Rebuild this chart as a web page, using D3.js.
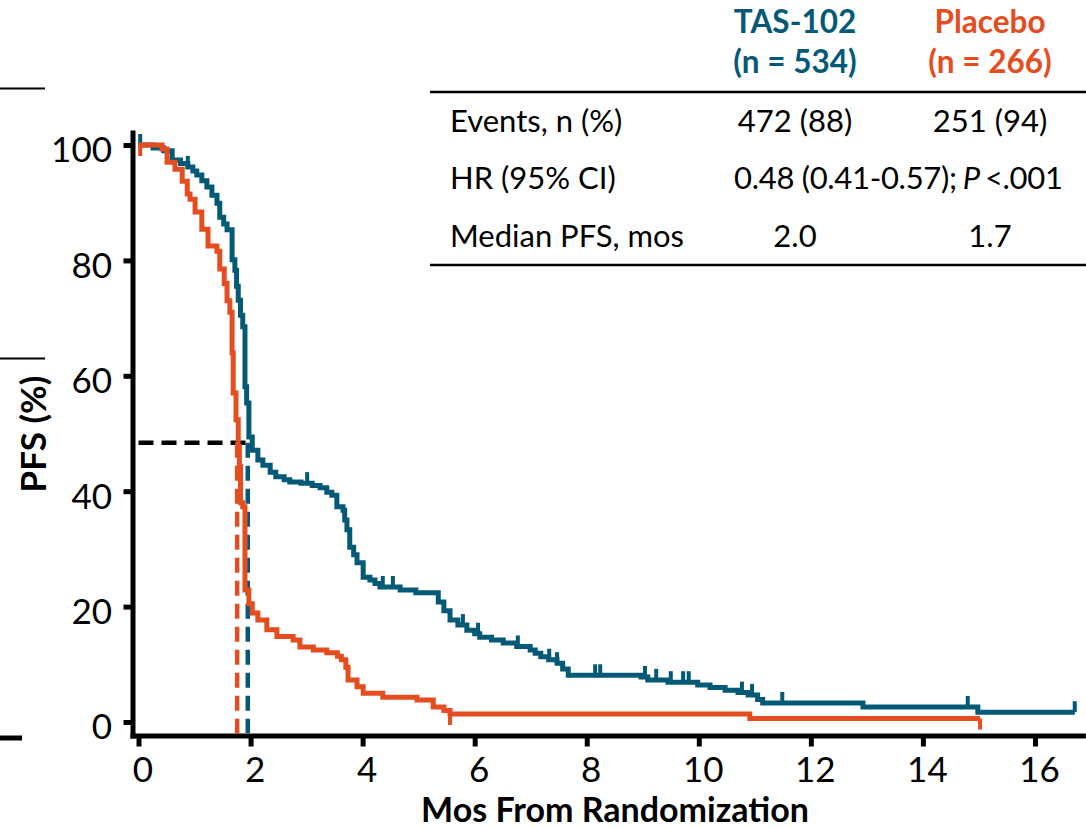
<!DOCTYPE html>
<html>
<head>
<meta charset="utf-8">
<script src="https://cdn.jsdelivr.net/npm/d3@7"></script>
<style>
  html, body { margin: 0; padding: 0; background: #fff; }
  svg { display: block; font-family: Lato, "Open Sans", sans-serif; }
</style>
</head>
<body>
<div id="chart"></div>
<script>
// Kaplan-Meier PFS: TAS-102 vs placebo, with summary table top right

// -------------------------------------------------------------
// Data
// -------------------------------------------------------------
const X_TICKS = [0, 2, 4, 6, 8, 10, 12, 14, 16];
const Y_TICKS = [0, 20, 40, 60, 80, 100];

// [months, PFS %] – value holds from that time onwards
const TAS_STEPS = [
  [0, 100], [0.26, 99.5], [0.45, 99.0], [0.60, 97.4], [0.75, 96.8], [0.88, 96.2],
  [0.97, 95.5], [1.04, 94.8], [1.13, 93.8], [1.22, 92.7], [1.31, 91.3], [1.40, 89.9],
  [1.45, 87.5], [1.52, 86.3], [1.58, 85.3], [1.67, 80.1], [1.72, 78.3], [1.75, 75.5],
  [1.78, 73.1], [1.82, 70.5], [1.86, 68.5], [1.90, 58.1], [1.93, 55.3], [1.97, 49.4],
  [2.03, 47.1], [2.13, 45.4], [2.22, 44.5], [2.35, 43.3], [2.45, 42.5], [2.60, 42.0],
  [2.70, 41.6], [2.90, 41.4], [3.10, 41.0], [3.24, 40.6], [3.36, 39.8], [3.45, 39.3],
  [3.54, 37.3], [3.65, 36.7], [3.68, 35.0], [3.72, 33.3], [3.77, 30.3], [3.84, 29.0],
  [3.90, 27.6], [4.01, 25.1], [4.13, 24.6], [4.22, 24.0], [4.31, 23.4], [4.67, 22.9],
  [4.95, 22.4], [5.35, 20.8], [5.45, 19.3], [5.56, 17.7], [5.70, 16.8], [5.86, 15.9],
  [6.00, 15.3], [6.09, 14.7], [6.30, 14.2], [6.51, 13.7], [6.75, 13.1], [6.99, 12.5],
  [7.08, 11.9], [7.18, 11.3], [7.32, 10.8], [7.47, 10.2], [7.57, 9.2], [7.67, 8.1],
  [8.97, 7.8], [9.09, 7.3], [9.45, 6.9], [9.98, 6.4], [10.20, 6.0], [10.47, 5.5],
  [10.70, 5.1], [10.88, 4.7], [11.05, 3.9], [11.14, 3.3], [12.93, 2.6], [14.98, 1.7]
];
const TAS_END = 16.71;
const TAS_CENSOR = [0.03, 0.60, 0.88, 3.01, 4.36, 4.54, 5.79, 6.06, 6.77, 7.33, 7.47,
  8.15, 8.24, 9.04, 9.24, 9.50, 9.72, 9.82, 10.77, 10.95, 11.49, 14.80, 16.71];

const PBO_STEPS = [
  [0, 100], [0.42, 99.3], [0.51, 97.0], [0.65, 95.8], [0.78, 93.7], [0.87, 91.5],
  [0.92, 90.6], [1.01, 88.4], [1.13, 85.4], [1.24, 82.5], [1.40, 81.6], [1.45, 78.5],
  [1.53, 76.0], [1.58, 73.0], [1.63, 71.0], [1.67, 64.0], [1.69, 57.0], [1.74, 52.4],
  [1.78, 47.7], [1.80, 44.3], [1.82, 38.0], [1.86, 37.3], [1.90, 22.9], [1.97, 20.5],
  [2.03, 18.9], [2.13, 17.7], [2.29, 16.0], [2.47, 14.8], [2.76, 14.2], [2.88, 13.0],
  [3.12, 12.5], [3.36, 12.0], [3.55, 11.4], [3.62, 10.8], [3.70, 9.5], [3.74, 7.3],
  [3.90, 6.1], [4.01, 5.0], [4.36, 4.3], [4.97, 3.8], [5.26, 2.6], [5.45, 2.0],
  [5.56, 1.4], [10.91, 0.6]
];
const PBO_END = 15.02;
const PBO_CENSOR = [0.03, 5.56, 15.02];

// median markers: [months, PFS %]
const MEDIAN_LEVEL = 48.4;
const TAS_MEDIAN = 1.95;
const PBO_MEDIAN = 1.76;

const ARM_HEADERS = [["TAS-102", "(n = 534)"], ["Placebo", "(n = 266)"]];
const TABLE_ROWS = [
  ["Events, n (%)", "472 (88)", "251 (94)"],
  ["HR (95% CI)", "0.48 (0.41-0.57); ", "<.001"],
  ["Median PFS, mos", "2.0", "1.7"]
];

const TEAL = "#045a76";
const ORANGE = "#e44d1f";

// -------------------------------------------------------------
// Helpers
// -------------------------------------------------------------
function survAt(steps, t) {
  let s = steps[0][1];
  for (const d of steps) { if (d[0] <= t) s = d[1]; }
  return s;
}

// -------------------------------------------------------------
// Chart
// -------------------------------------------------------------
const W = 1086, H = 828;
const svg = d3.select("#chart").append("svg")
  .attr("width", W)
  .attr("height", H);

const x = d3.scaleLinear().domain([-0.152, 16.9]).range([130, 1085.4]);
const y = d3.scaleLinear().domain([-2.77, 102.6]).range([738, 130]);

// stray rule fragments at the left edge of the figure
svg.append("line").attr("x1", 0).attr("x2", 45).attr("y1", 88.5).attr("y2", 88.5)
  .attr("stroke", "#000").attr("stroke-width", 2);
svg.append("line").attr("x1", 0).attr("x2", 45).attr("y1", 358.5).attr("y2", 358.5)
  .attr("stroke", "#000").attr("stroke-width", 2);
svg.append("line").attr("x1", 0).attr("x2", 22).attr("y1", 738).attr("y2", 738)
  .attr("stroke", "#000").attr("stroke-width", 5);

// axes
const xAxis = svg.append("g")
  .attr("transform", "translate(0,735.5)")
  .call(d3.axisBottom(x).tickValues(X_TICKS).tickSize(11).tickSizeOuter(0).tickPadding(11));

const yAxis = svg.append("g")
  .attr("transform", "translate(132.5,0)")
  .call(d3.axisLeft(y).tickValues(Y_TICKS).tickSize(9).tickSizeOuter(0).tickPadding(11.5));

[xAxis, yAxis].forEach(a => {
  a.select(".domain").attr("stroke", "#000").attr("stroke-width", 5);
  a.selectAll(".tick line").attr("stroke", "#000").attr("stroke-width", 5);
  a.selectAll(".tick text")
    .attr("fill", "#000")
    .style("font-family", "Lato, 'Open Sans', sans-serif")
    .style("font-size", "35px");
});
xAxis.selectAll(".tick text").attr("dx", 4);
yAxis.selectAll(".tick text").attr("dy", "0.48em");

// axis titles
svg.append("text")
  .attr("x", 615)
  .attr("y", 822)
  .attr("text-anchor", "middle")
  .attr("font-weight", 700)
  .attr("font-size", 34)
  .text("Mos From Randomization");

svg.append("text")
  .attr("transform", "translate(46,434) rotate(-90)")
  .attr("text-anchor", "middle")
  .attr("font-weight", 700)
  .attr("font-size", 35)
  .text("PFS (%)");

// median dashed guides
const dash = "15,8";
svg.append("line")
  .attr("x1", x(0)).attr("x2", x(TAS_MEDIAN) + 2)
  .attr("y1", y(MEDIAN_LEVEL)).attr("y2", y(MEDIAN_LEVEL))
  .attr("stroke", "#000").attr("stroke-width", 4.5).attr("stroke-dasharray", dash);
svg.append("line")
  .attr("x1", x(TAS_MEDIAN)).attr("x2", x(TAS_MEDIAN))
  .attr("y1", y(MEDIAN_LEVEL)).attr("y2", 733)
  .attr("stroke", TEAL).attr("stroke-width", 4.5).attr("stroke-dasharray", dash);
svg.append("line")
  .attr("x1", x(PBO_MEDIAN)).attr("x2", x(PBO_MEDIAN))
  .attr("y1", y(MEDIAN_LEVEL)).attr("y2", 735)
  .attr("stroke", ORANGE).attr("stroke-width", 4.5).attr("stroke-dasharray", dash);

// KM curves
const line = d3.line()
  .x(d => x(d[0]))
  .y(d => y(d[1]))
  .curve(d3.curveStepAfter);

const arms = [
  { steps: TAS_STEPS, end: TAS_END, censor: TAS_CENSOR, color: TEAL, dir: -1 },
  { steps: PBO_STEPS, end: PBO_END, censor: PBO_CENSOR, color: ORANGE, dir: 1 }
];

arms.forEach(arm => {
  const pts = arm.steps.concat([[arm.end, arm.steps[arm.steps.length - 1][1]]]);
  svg.append("path")
    .datum(pts)
    .attr("fill", "none")
    .attr("stroke", arm.color)
    .attr("stroke-width", 5)
    .attr("stroke-linejoin", "miter")
    .attr("d", line);

  svg.append("g").selectAll("line")
    .data(arm.censor)
    .join("line")
    .attr("x1", d => x(d)).attr("x2", d => x(d))
    .attr("y1", d => y(survAt(arm.steps, d)))
    .attr("y2", d => y(survAt(arm.steps, d)) + arm.dir * 11)
    .attr("stroke", arm.color)
    .attr("stroke-width", 4);
});

// -------------------------------------------------------------
// Summary table
// -------------------------------------------------------------
const colX = [795, 990];
const table = svg.append("g").attr("font-size", 31).attr("fill", "#000");

ARM_HEADERS.forEach((h, i) => {
  const c = i === 0 ? TEAL : ORANGE;
  [33, 73].forEach((by, j) => {
    table.append("text")
      .attr("x", colX[i]).attr("y", by)
      .attr("text-anchor", "middle")
      .attr("font-weight", 700)
      .attr("font-size", 31.5)
      .attr("fill", c)
      .text(h[j]);
  });
});

table.append("line").attr("x1", 430).attr("x2", 1086).attr("y1", 92).attr("y2", 92)
  .attr("stroke", "#000").attr("stroke-width", 2.5);
table.append("line").attr("x1", 430).attr("x2", 1086).attr("y1", 265).attr("y2", 265)
  .attr("stroke", "#000").attr("stroke-width", 2.5);

const rowY = [132, 189, 247];
TABLE_ROWS.forEach((r, i) => {
  table.append("text").attr("x", 450).attr("y", rowY[i]).text(r[0]);
  if (i === 1) {
    const t = table.append("text").attr("x", 734).attr("y", rowY[i])
      .attr("letter-spacing", -0.3);
    t.append("tspan").text(r[1].trimEnd());
    t.append("tspan").attr("dx", 6).attr("font-style", "italic").text("P");
    t.append("tspan").attr("dx", 5).text(r[2]);
  } else {
    table.append("text").attr("x", colX[0]).attr("y", rowY[i]).attr("text-anchor", "middle").text(r[1]);
    table.append("text").attr("x", colX[1]).attr("y", rowY[i]).attr("text-anchor", "middle").text(r[2]);
  }
});
</script>
</body>
</html>
